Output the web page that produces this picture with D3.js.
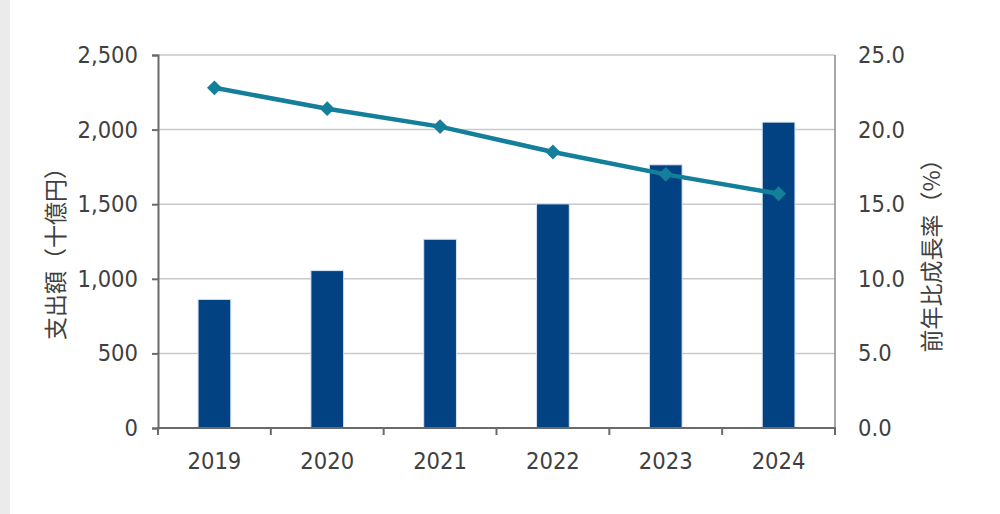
<!DOCTYPE html>
<html lang="ja">
<head>
<meta charset="UTF-8">
<title>支出額と前年比成長率</title>
<style>
  body { margin: 0; background: #fff; }
  text { font-family: "DejaVu Sans Condensed", "DejaVu Sans", sans-serif; fill: #404040; }
  .jp { font-family: "Noto Sans CJK JP", sans-serif; }
</style>
</head>
<body>
<script src="https://d3js.org/d3.v7.min.js"></script>
<script>
// data
var years = ["2019", "2020", "2021", "2022", "2023", "2024"];
var spending = [862, 1055, 1265, 1502, 1764, 2050];     // 十億円
var growth = [22.8, 21.4, 20.2, 18.5, 17.0, 15.7];      // %
var leftTicks = [0, 500, 1000, 1500, 2000, 2500];
var rightTicks = [0, 5, 10, 15, 20, 25];

const width = 1000, height = 514;
const plotL = 158, plotR = 835, plotT = 55, plotB = 428;

const svg = d3.select("body").append("svg")
    .attr("width", width)
    .attr("height", height);

// light gray strip on the page edge
svg.append("rect").attr("x", 0).attr("y", 0).attr("width", 10).attr("height", height).attr("fill", "#ebebeb");

var x = d3.scaleBand().domain(years).range([plotL, plotR]).paddingInner(0.71).paddingOuter(0.355);
var yL = d3.scaleLinear().domain([0, 2500]).range([plotB, plotT]);
var yR = d3.scaleLinear().domain([0, 25]).range([plotB, plotT]);

// gridlines
svg.append("g").selectAll("line")
    .data(leftTicks.slice(1))
    .enter().append("line")
    .attr("x1", plotL).attr("x2", plotR)
    .attr("y1", d => yL(d)).attr("y2", d => yL(d))
    .attr("stroke", "#c9c9c9").attr("stroke-width", 1.5);

// right frame
svg.append("line").attr("x1", plotR).attr("x2", plotR).attr("y1", plotT).attr("y2", plotB)
    .attr("stroke", "#8a8a8a").attr("stroke-width", 1.5);

// bars
svg.append("g").selectAll("rect")
    .data(spending)
    .enter().append("rect")
    .attr("x", (d, i) => x(years[i]))
    .attr("width", x.bandwidth())
    .attr("y", d => yL(d))
    .attr("height", d => yL(0) - yL(d))
    .attr("fill", "#024283")
    .attr("stroke", "#d6e4f2").attr("stroke-width", 1);

// left axis
var axL = d3.axisLeft(yL).tickValues(leftTicks).tickSize(6).tickPadding(14)
    .tickFormat(d3.format(","));
var gL = svg.append("g").attr("transform", "translate(" + plotL + ",0)").call(axL);
gL.select(".domain").attr("stroke", "#6a6a6a").attr("stroke-width", 2);
gL.selectAll(".tick line").attr("stroke", "#6a6a6a").attr("stroke-width", 2);
gL.selectAll("text").style("font-size", "23.5px").attr("fill", "#404040");

// right axis labels only
var axR = d3.axisRight(yR).tickValues(rightTicks).tickSize(0).tickPadding(23)
    .tickFormat(d3.format(".1f"));
var gR = svg.append("g").attr("transform", "translate(" + plotR + ",0)").call(axR);
gR.select(".domain").remove();
gR.selectAll("text").style("font-size", "23.5px").attr("fill", "#404040");

// bottom axis, ticks at category boundaries
var bounds = years.map(y => x(y) - x.step() * x.paddingInner() / 2).concat([plotR]);
var gB = svg.append("g");
gB.append("line").attr("x1", plotL - 1).attr("x2", plotR + 1).attr("y1", plotB).attr("y2", plotB)
    .attr("stroke", "#6a6a6a").attr("stroke-width", 2);
gB.selectAll(".bt").data(bounds).enter().append("line")
    .attr("x1", d => d).attr("x2", d => d)
    .attr("y1", plotB).attr("y2", plotB + 7)
    .attr("stroke", "#6a6a6a").attr("stroke-width", 2);
gB.selectAll("text").data(years).enter().append("text")
    .attr("x", d => x(d) + x.bandwidth() / 2)
    .attr("y", 469)
    .attr("text-anchor", "middle")
    .style("font-size", "23.5px")
    .text(d => d);

// growth line with diamonds
var line = d3.line()
    .x((d, i) => x(years[i]) + x.bandwidth() / 2)
    .y(d => yR(d));
svg.append("path").datum(growth)
    .attr("d", line)
    .attr("fill", "none")
    .attr("stroke", "#137f9a")
    .attr("stroke-width", 4.5);
svg.append("g").selectAll("path")
    .data(growth)
    .enter().append("path")
    .attr("transform", (d, i) => "translate(" + (x(years[i]) + x.bandwidth() / 2) + "," + yR(d) + ")")
    .attr("d", d3.symbol().type(d3.symbolDiamond2).size(140))
    .attr("fill", "#137f9a");

// axis titles
svg.append("text").attr("class", "jp")
    .attr("transform", "translate(64,248) rotate(-90)")
    .attr("text-anchor", "middle")
    .style("font-size", "23px")
    .text("支出額（十億円）");
svg.append("text").attr("class", "jp")
    .attr("transform", "translate(940,250) rotate(-90)")
    .attr("text-anchor", "middle")
    .style("font-size", "23px")
    .text("前年比成長率（%）");
</script>
</body>
</html>
